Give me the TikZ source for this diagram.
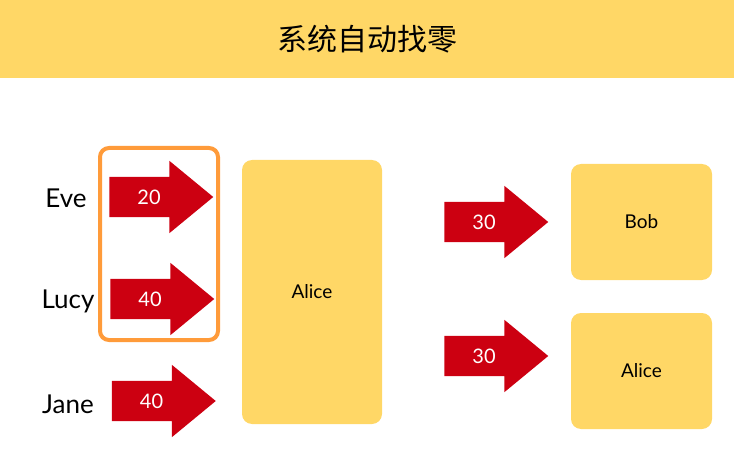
\documentclass[tikz,border=0pt]{standalone}
\usepackage{fontspec}
\setmainfont{Lato}
\newfontfamily\cjk{Noto Sans CJK SC}
\usetikzlibrary{shapes}
\usetikzlibrary{shapes.arrows}
\usetikzlibrary{positioning}
\definecolor{zlyellow}{HTML}{FFD766}
\definecolor{zlred}{HTML}{CC0011}
\definecolor{zlorange}{HTML}{FF9B3A}
\tikzset{
    header/.style = {rectangle, fill=zlyellow, minimum width=734pt, minimum height=78pt, inner sep=0, font=\cjk\fontsize{30}{31}\selectfont, text=black},
    namenode/.style = {inner sep=0, font=\fontsize{26}{28}\selectfont, text=black},
    paynode/.style = {single arrow, fill=zlred, draw=none, single arrow head extend=16pt, single arrow tip angle=79, minimum height=104pt, minimum width=72pt, inner xsep=4pt, inner ysep=12.75pt, text height=14.5pt, text depth=0pt, font=\fontsize{20}{22}\selectfont, text=white},
    personbox/.style = {rectangle, rounded corners=10pt, fill=zlyellow, inner sep=0, font=\fontsize{19}{20}\selectfont, text=black},
    groupbox/.style = {rectangle, rounded corners=9pt, draw=zlorange, line width=4pt, inner sep=0, minimum width=118pt, minimum height=192pt}
}
\begin{document}
\begin{tikzpicture}[x=1pt,y=-1pt]
\useasboundingbox (0,0) rectangle (734,476);
\node[header] at (367, 39) (title) {系统自动找零};

\node[groupbox] at (159, 244) (group) {};

\node[namenode] at ( 66, 198) (eve)  {Eve};
\node[namenode] at ( 68, 301) (lucy) {Lucy};
\node[namenode] at ( 68, 404) (jane) {Jane};

% text sits 12pt left of the arrow's middle
\node[paynode] at (149, 197) (pay1) {20};
\node[paynode] at (150, 299) (pay2) {40};
\node[paynode] at (151.5, 401) (pay3) {40};

\node[personbox, minimum width=140pt, minimum height=264pt] at (312, 292) (alice) {Alice};

\node[paynode] at (484, 222) (back1) {30};
\node[paynode] at (484, 356) (back2) {30};

\node[personbox, minimum width=141pt, minimum height=116pt] at (641.5, 222) (bob) {Bob};
\node[personbox, minimum width=141pt, minimum height=116pt] at (641.5, 371) (alice2) {Alice};

\end{tikzpicture}
\end{document}
